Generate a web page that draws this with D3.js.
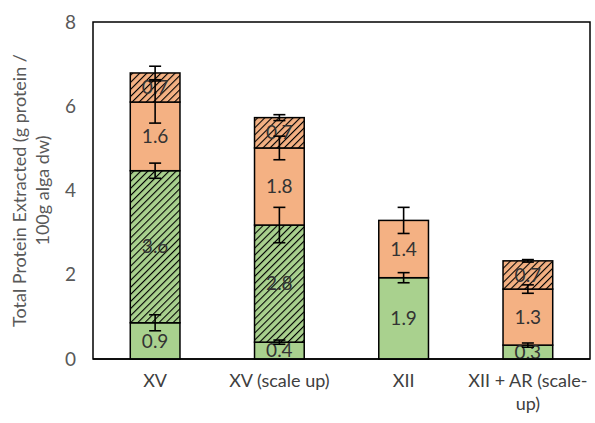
<!DOCTYPE html>
<html>
<head>
<meta charset="utf-8">
<script src="https://cdn.jsdelivr.net/npm/d3@7"></script>
<style>
  body { margin: 0; background: #fff; }
  text { font-family: Lato, "Open Sans", sans-serif; }
</style>
</head>
<body>
<svg></svg>
<script>
const width = 595
const height = 423
const marginTop = 22
const marginRight = 5
const marginBottom = 64
const marginLeft = 93

// values
const categories = ["XV", "XV (scale up)", "XII", "XII + AR (scale-up)"]
const greenSolid = [0.86, 0.40, 1.93, 0.33]
const greenHatch = [3.61, 2.78, 0, 0]
const orangeSolid = [1.63, 1.83, 1.36, 1.33]
const orangeHatch = [0.69, 0.72, 0, 0.67]
const greenSolidErr = [0.19, 0.05, 0.12, 0.05]
const greenHatchErr = [0.18, 0.42, 0, 0]
const orangeSolidErr = [0.5, 0.28, 0.31, 0.1]
const orangeHatchErr = [0.16, 0.07, 0, 0.03]
const yTicks = [0, 2, 4, 6, 8]

const series = [
  {key: "greenSolid", values: greenSolid, err: greenSolidErr, color: "#A9D18E", hatch: false},
  {key: "greenHatch", values: greenHatch, err: greenHatchErr, color: "#A9D18E", hatch: true},
  {key: "orangeSolid", values: orangeSolid, err: orangeSolidErr, color: "#F4B183", hatch: false},
  {key: "orangeHatch", values: orangeHatch, err: orangeHatchErr, color: "#F4B183", hatch: true}
]

const svg = d3.select("svg")
    .attr("width", width)
    .attr("height", height)

// hatch patterns
const defs = svg.append("defs")
series.filter(s => s.hatch).forEach(s => {
  const p = defs.append("pattern")
      .attr("id", "hatch-" + s.key)
      .attr("patternUnits", "userSpaceOnUse")
      .attr("width", 5)
      .attr("height", 5)
      .attr("patternTransform", "rotate(45)")
  p.append("rect").attr("width", 5).attr("height", 5).attr("fill", s.color)
  p.append("line")
      .attr("x1", 0).attr("y1", 0).attr("x2", 0).attr("y2", 5)
      .attr("stroke", "#000").attr("stroke-width", 2.2)
})

const x = d3.scaleBand()
    .domain(categories)
    .range([marginLeft, width - marginRight])
    .paddingInner(0.6)
    .paddingOuter(0.3)

const y = d3.scaleLinear()
    .domain([0, 8])
    .range([height - marginBottom, marginTop])

// stacked segments
const segs = []
categories.forEach((c, i) => {
  let base = 0
  series.forEach(s => {
    const v = s.values[i]
    if (v > 0) segs.push({cat: c, s: s, y0: base, y1: base + v, v: v, err: s.err[i]})
    base += v
  })
})

// plot frame
svg.append("rect")
    .attr("x", marginLeft)
    .attr("y", marginTop)
    .attr("width", width - marginRight - marginLeft)
    .attr("height", y(0) - marginTop)
    .attr("fill", "none")
    .attr("stroke", "#000")
    .attr("stroke-width", 1.5)

svg.append("g").selectAll("rect").data(segs).join("rect")
    .attr("x", d => x(d.cat))
    .attr("y", d => y(d.y1))
    .attr("width", x.bandwidth())
    .attr("height", d => y(d.y0) - y(d.y1))
    .attr("fill", d => d.s.hatch ? `url(#hatch-${d.s.key})` : d.s.color)
    .attr("stroke", "#000")
    .attr("stroke-width", 1.5)

// data labels
svg.append("g").selectAll("text").data(segs).join("text")
    .attr("x", d => x(d.cat) + x.bandwidth() / 2)
    .attr("y", d => y((d.y0 + d.y1) / 2))
    .attr("dy", "0.35em")
    .attr("text-anchor", "middle")
    .attr("font-size", "19px")
    .attr("fill", "#333")
    .text(d => d3.format(".1f")(d.v))

// error bars
const eb = svg.append("g")
    .attr("stroke", "#000")
    .attr("stroke-width", 1.6)
    .selectAll("g").data(segs.filter(d => d.err > 0)).join("g")
eb.append("line")
    .attr("x1", d => x(d.cat) + x.bandwidth() / 2)
    .attr("x2", d => x(d.cat) + x.bandwidth() / 2)
    .attr("y1", d => y(d.y1 + d.err))
    .attr("y2", d => y(d.y1 - d.err))
eb.selectAll(".cap").data(d => [d.y1 + d.err, d.y1 - d.err].map(v => ({cat: d.cat, v: v})))
  .join("line")
    .attr("x1", d => x(d.cat) + x.bandwidth() / 2 - 6)
    .attr("x2", d => x(d.cat) + x.bandwidth() / 2 + 6)
    .attr("y1", d => y(d.v))
    .attr("y2", d => y(d.v))

// baseline
svg.append("line")
    .attr("x1", marginLeft).attr("x2", width - marginRight)
    .attr("y1", y(0)).attr("y2", y(0))
    .attr("stroke", "#000").attr("stroke-width", 1.5)

// y tick labels
svg.append("g").selectAll("text").data(yTicks).join("text")
    .attr("x", 76)
    .attr("y", d => y(d))
    .attr("dy", "0.35em")
    .attr("text-anchor", "end")
    .attr("font-size", "19px")
    .attr("fill", "#595959")
    .text(d => d)

// x labels (wrapped like the original)
const xLines = {"XII + AR (scale-up)": ["XII + AR (scale-", "up)"]}
svg.append("g").selectAll("text").data(categories).join("text")
    .attr("x", d => x(d) + x.bandwidth() / 2)
    .attr("y", 387)
    .attr("text-anchor", "middle")
    .attr("font-size", "18px")
    .attr("fill", "#404040")
    .each(function(d) {
      const lines = xLines[d] || [d]
      d3.select(this).selectAll("tspan").data(lines).join("tspan")
          .attr("x", x(d) + x.bandwidth() / 2)
          .attr("dy", (l, i) => i === 0 ? 0 : "1.25em")
          .text(l => l)
    })

// y title
const yt = svg.append("text")
    .attr("transform", `translate(26, ${(marginTop + y(0)) / 2}) rotate(-90)`)
    .attr("text-anchor", "middle")
    .attr("font-size", "18px")
    .attr("fill", "#595959")
yt.append("tspan").attr("x", 0).attr("dy", 0).text("Total Protein Extracted (g protein /")
yt.append("tspan").attr("x", 0).attr("dy", "1.25em").text("100g alga dw)")
</script>
</body>
</html>
